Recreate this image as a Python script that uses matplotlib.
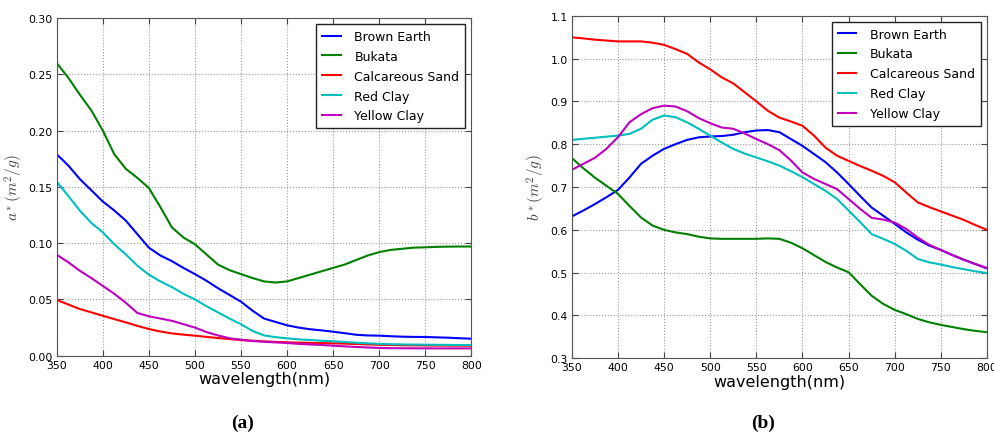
import numpy as np
import matplotlib
matplotlib.use("Agg")
import matplotlib.pyplot as plt
from matplotlib.ticker import FormatStrFormatter

plt.rcParams["mathtext.fontset"] = "cm"

# wavelength grid (nm), values every 12.5 nm
wl = np.arange(350, 800.1, 12.5)

names = ["Brown Earth", "Bukata", "Calcareous Sand", "Red Clay", "Yellow Clay"]
colors = ["#0000ff", "#008000", "#ff0000", "#00bfbf", "#bf00bf"]

# (a) absorption a*(m^2/g)
a_brown = [0.179, 0.169, 0.157, 0.147, 0.137, 0.129, 0.120, 0.108, 0.096, 0.089,
           0.084, 0.078, 0.0725, 0.0666, 0.060, 0.054, 0.048, 0.040, 0.033, 0.030,
           0.027, 0.025, 0.0235, 0.0225, 0.0213, 0.020, 0.0186, 0.018, 0.0178, 0.0173,
           0.0169, 0.0167, 0.0166, 0.0163, 0.016, 0.0155, 0.0151]
a_bukata = [0.260, 0.247, 0.232, 0.218, 0.200, 0.179, 0.166, 0.158, 0.149, 0.132,
            0.114, 0.105, 0.099, 0.090, 0.081, 0.076, 0.0725, 0.069, 0.066, 0.065,
            0.066, 0.069, 0.072, 0.075, 0.078, 0.081, 0.085, 0.089, 0.092, 0.094,
            0.095, 0.096, 0.0963, 0.0967, 0.0969, 0.097, 0.097]
a_calc = [0.0495, 0.0455, 0.0415, 0.0385, 0.0355, 0.0325, 0.0296, 0.0265, 0.0237, 0.0215,
          0.0198, 0.0187, 0.0178, 0.0167, 0.0157, 0.0148, 0.0139, 0.0133, 0.0127, 0.0123,
          0.0119, 0.0116, 0.0114, 0.0112, 0.011, 0.0107, 0.0104, 0.0100, 0.0097, 0.0095,
          0.0093, 0.0092, 0.0091, 0.009, 0.009, 0.0089, 0.0089]
a_red = [0.1546, 0.142, 0.129, 0.118, 0.1096, 0.099, 0.090, 0.080, 0.072, 0.066,
         0.061, 0.055, 0.050, 0.044, 0.0385, 0.033, 0.028, 0.022, 0.018, 0.0165,
         0.0154, 0.0145, 0.014, 0.0133, 0.0128, 0.0122, 0.0115, 0.011, 0.0105, 0.0102,
         0.010, 0.0099, 0.0098, 0.0097, 0.0096, 0.0095, 0.0095]
a_yellow = [0.0897, 0.083, 0.0755, 0.069, 0.062, 0.055, 0.047, 0.038, 0.035, 0.033,
            0.031, 0.028, 0.025, 0.021, 0.018, 0.0155, 0.0142, 0.013, 0.0124, 0.0118,
            0.0113, 0.0105, 0.010, 0.0095, 0.0089, 0.0083, 0.0078, 0.0073, 0.0069, 0.0067,
            0.0066, 0.0066, 0.0065, 0.0065, 0.0065, 0.0065, 0.0065]

# (b) scattering b*(m^2/g)
b_brown = [0.631, 0.645, 0.660, 0.676, 0.693, 0.722, 0.754, 0.773, 0.789, 0.800,
           0.810, 0.816, 0.818, 0.819, 0.822, 0.828, 0.832, 0.833, 0.828, 0.812,
           0.796, 0.777, 0.758, 0.734, 0.707, 0.679, 0.652, 0.633, 0.614, 0.594,
           0.577, 0.563, 0.553, 0.541, 0.530, 0.520, 0.510]
b_bukata = [0.768, 0.744, 0.722, 0.703, 0.684, 0.656, 0.629, 0.610, 0.600, 0.594,
            0.590, 0.584, 0.580, 0.579, 0.579, 0.579, 0.579, 0.580, 0.579, 0.570,
            0.557, 0.541, 0.525, 0.512, 0.501, 0.473, 0.446, 0.427, 0.413, 0.403,
            0.392, 0.384, 0.378, 0.373, 0.368, 0.364, 0.361]
b_calc = [1.0495, 1.047, 1.044, 1.042, 1.040, 1.040, 1.040, 1.037, 1.032, 1.022,
          1.011, 0.991, 0.975, 0.956, 0.942, 0.921, 0.900, 0.878, 0.862, 0.853,
          0.843, 0.820, 0.792, 0.773, 0.761, 0.749, 0.738, 0.726, 0.711, 0.687,
          0.664, 0.653, 0.643, 0.633, 0.623, 0.611, 0.600]
b_red = [0.810, 0.8125, 0.815, 0.8175, 0.820, 0.824, 0.836, 0.857, 0.867, 0.863,
         0.851, 0.836, 0.820, 0.804, 0.789, 0.778, 0.769, 0.760, 0.750, 0.737,
         0.723, 0.707, 0.691, 0.672, 0.645, 0.618, 0.590, 0.579, 0.567, 0.551,
         0.532, 0.524, 0.519, 0.513, 0.508, 0.503, 0.499]
b_yellow = [0.740, 0.754, 0.768, 0.789, 0.816, 0.851, 0.870, 0.884, 0.890, 0.888,
            0.877, 0.861, 0.849, 0.839, 0.836, 0.825, 0.812, 0.800, 0.786, 0.762,
            0.734, 0.719, 0.707, 0.695, 0.672, 0.649, 0.628, 0.624, 0.617, 0.602,
            0.582, 0.565, 0.553, 0.541, 0.530, 0.520, 0.511]

fig = plt.figure(figsize=(9.95, 4.35), dpi=100)
fig.patch.set_facecolor("white")

ax1 = fig.add_axes([0.057, 0.18, 0.4167, 0.7763])
ax2 = fig.add_axes([0.5746, 0.174, 0.4174, 0.7876])


def style(ax, series, ylim, yticks, ylabel, ylabel_x):
    for s, n, c in zip(series, names, colors):
        ax.plot(wl, s, color=c, lw=1.5, label=n)
    ax.set_xlim(350, 800)
    ax.set_ylim(*ylim)
    ax.set_xticks(np.arange(350, 801, 50))
    ax.set_yticks(yticks)
    ax.grid(True, color="#999999", linestyle=":", lw=0.8)
    ax.tick_params(direction="in", top=True, right=True, labelsize=7.8,
                   pad=3, length=4, color="#444444")
    for sp in ax.spines.values():
        sp.set_color("#555555")
    ax.set_xlabel("wavelength(nm)", fontsize=11.5, labelpad=1)
    ax.set_ylabel(ylabel, fontsize=11, color="#444444")
    ax.yaxis.set_label_coords(ylabel_x, 0.5)
    leg = ax.legend(loc="upper right", fontsize=9, fancybox=False,
                    framealpha=1, edgecolor="#222222", handlelength=1.5,
                    borderpad=0.45, labelspacing=0.55, handletextpad=1.1,
                    borderaxespad=0.5)
    leg.get_frame().set_linewidth(1.0)


style(ax1, [a_brown, a_bukata, a_calc, a_red, a_yellow], (0, 0.30),
      np.arange(0, 0.301, 0.05), r"$a^*(m^2/g)$", -0.076)
ax1.yaxis.set_major_formatter(FormatStrFormatter("%.2f"))

style(ax2, [b_brown, b_bukata, b_calc, b_red, b_yellow], (0.3, 1.1),
      np.arange(0.3, 1.101, 0.1), r"$b^*(m^2/g)$", -0.06)
ax2.yaxis.set_major_formatter(FormatStrFormatter("%.1f"))

fig.text(0.244, 0.027, "(a)", ha="center", va="center", fontsize=14,
         fontweight="bold", family="Liberation Serif")
fig.text(0.767, 0.027, "(b)", ha="center", va="center", fontsize=14,
         fontweight="bold", family="Liberation Serif")

fig.savefig("out.png", dpi=100)
